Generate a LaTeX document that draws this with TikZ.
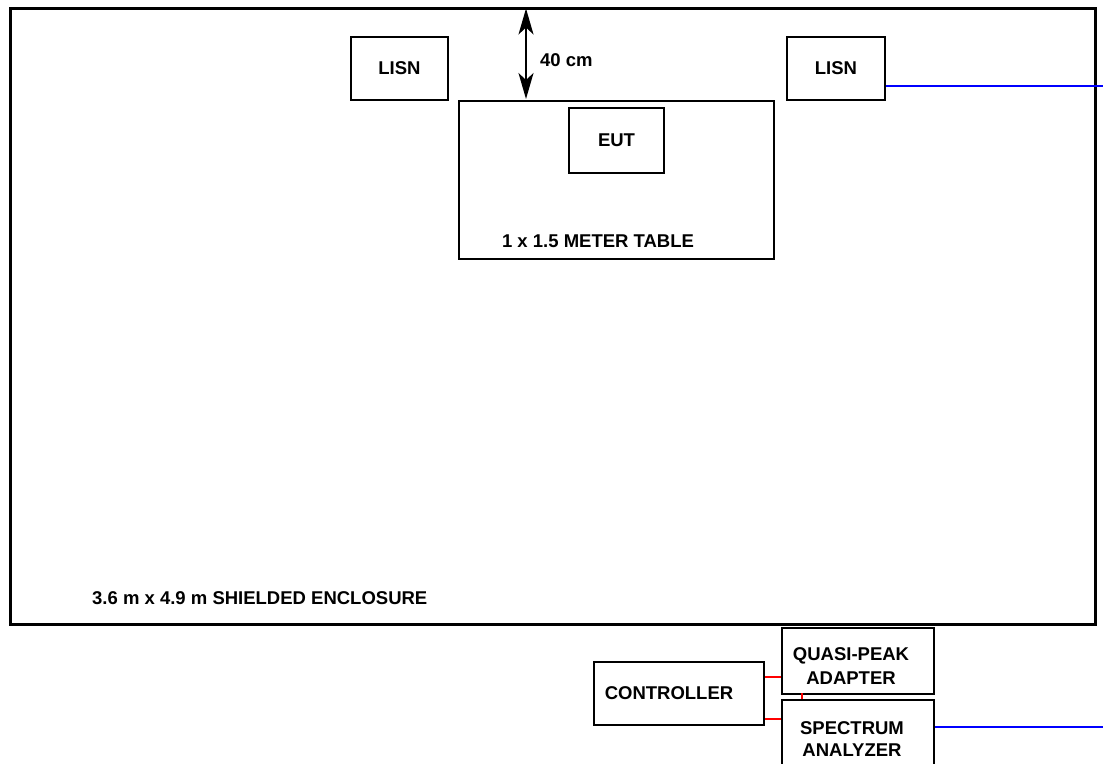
\documentclass[tikz,border=0pt]{standalone}
\usepackage{fontspec}
\setmainfont{Liberation Sans}
\usetikzlibrary{arrows.meta,calc}
\tikzset{bigtip/.tip={Stealth[length=26pt,width=15pt,inset=7pt]}}
\begin{document}
\begin{tikzpicture}[x=1pt,y=-1pt,
  boxed/.style={draw=black,line width=2pt,fill=white,inner sep=0pt},
  lbl/.style={font=\fontsize{18.5}{22}\selectfont\bfseries,inner sep=0pt,align=center},
  redline/.style={draw=red,line width=2pt},
  blueline/.style={draw=blue,line width=2pt}]
\useasboundingbox (0,0) rectangle (1103,763);
\fill[white] (0,0) rectangle (1103,763);
% shielded enclosure
\node[boxed,line width=3pt,minimum width=1085pt,minimum height=616pt,anchor=north west] (encl) at (9,7) {};
\node[lbl,anchor=west] (encltxt) at (92,598) {3.6 m x 4.9 m SHIELDED ENCLOSURE};
% LISNs
\node[boxed,minimum width=97pt,minimum height=63pt,anchor=north west] (lisnL) at (350,36) {};
\node[lbl] at (lisnL.center) {LISN};
\node[boxed,minimum width=98pt,minimum height=63pt,anchor=north west] (lisnR) at (786,36) {};
\node[lbl] at (lisnR.center) {LISN};
% table
\node[boxed,minimum width=315pt,minimum height=158pt,anchor=north west] (table) at (458,100) {};
\node[lbl] (tabletxt) at (598,241) {1 x 1.5 METER TABLE};
\node[boxed,minimum width=95pt,minimum height=65pt,anchor=north west] (eut) at (568,107) {};
\node[lbl] at (eut.center) {EUT};
% 40 cm arrow
\coordinate (atop) at (526,8.5);
\coordinate (abot) at (526,99);
\draw[line width=2pt,{bigtip}-{bigtip}] (atop) -- (abot);
\node[lbl,anchor=west] (dist) at (540,60) {40 cm};
% outside equipment
\node[boxed,minimum width=170pt,minimum height=63pt,anchor=north west] (ctrl) at (593,661) {};
\node[lbl] at ($(ctrl.center)+(-10,0)$) {CONTROLLER};
\node[boxed,minimum width=152pt,minimum height=66pt,anchor=north west] (qp) at (781,627) {};
\node[lbl,font=\fontsize{18.5}{24}\selectfont\bfseries] at ($(qp.center)+(-7,5)$) {QUASI-PEAK\\ADAPTER};
\node[boxed,minimum width=152pt,minimum height=80pt,anchor=north west] (sa) at (781,699) {};
\node[lbl,font=\fontsize{18.5}{22}\selectfont\bfseries] at (852,739) {SPECTRUM\\ANALYZER};
% connections
\draw[redline] (ctrl.east |- 0,677) -- (qp.west |- 0,677);
\draw[redline] (ctrl.east |- 0,719) -- (sa.west |- 0,719);
\draw[redline] (802,693) -- (802,699);
\coordinate (outA) at (1104,86);
\coordinate (outB) at (1104,727);
\draw[blueline] (lisnR.east |- outA) -- (outA);
\draw[blueline] (sa.east |- outB) -- (outB);
\end{tikzpicture}
\end{document}
